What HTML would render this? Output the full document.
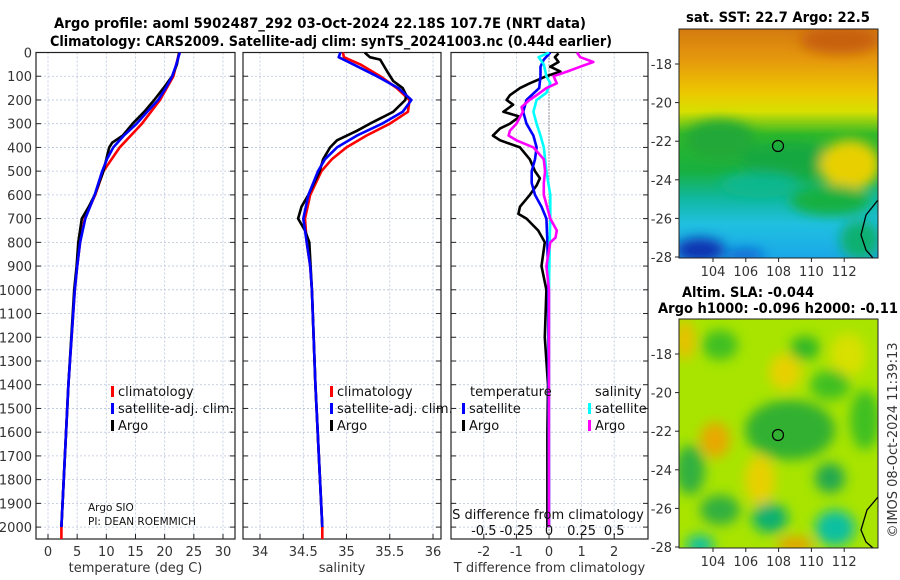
<!DOCTYPE html>
<html><head><meta charset="utf-8">
<style>
html,body{margin:0;padding:0;background:#fff;}
svg{display:block;font-family:"DejaVu Sans","Liberation Sans",sans-serif;}
</style></head>
<body>
<svg id="fig" width="900" height="580" viewBox="0 0 900 580" xmlns="http://www.w3.org/2000/svg">
<defs>
<linearGradient id="sstGrad" x1="0" y1="0" x2="0" y2="1">
<stop offset="0" stop-color="#d47a10"/><stop offset="0.14" stop-color="#e69a0c"/>
<stop offset="0.28" stop-color="#ecc800"/><stop offset="0.36" stop-color="#d8e000"/>
<stop offset="0.46" stop-color="#30b828"/><stop offset="0.62" stop-color="#18b040"/>
<stop offset="0.74" stop-color="#10b8a0"/><stop offset="0.85" stop-color="#20c0e0"/>
<stop offset="1" stop-color="#1aa8e8"/></linearGradient>
<filter id="blur6" x="-30%" y="-30%" width="160%" height="160%"><feGaussianBlur stdDeviation="6"/></filter>
<clipPath id="clipMap1"><rect x="679" y="29" width="199" height="229"/></clipPath>
<clipPath id="clipMap2"><rect x="679" y="319" width="199" height="229"/></clipPath>
<clipPath id="clipP1"><rect x="36" y="52" width="199" height="487"/></clipPath>
<clipPath id="clipP2"><rect x="243" y="52" width="198" height="487"/></clipPath>
<clipPath id="clipP3"><rect x="451" y="52" width="197" height="487"/></clipPath>
</defs>
<g font-weight="bold" font-size="14">
<text x="54" y="28" textLength="532" lengthAdjust="spacingAndGlyphs">Argo profile: aoml 5902487_292 03-Oct-2024 22.18S 107.7E (NRT data)</text>
<text x="50" y="46" textLength="562" lengthAdjust="spacingAndGlyphs">Climatology: CARS2009. Satellite-adj clim: synTS_20241003.nc (0.44d earlier)</text>
</g>
<g id="p1"></g>
<g id="p2"></g>
<g id="p3"></g>

<!-- SST map -->
<g>
<text x="686" y="22" font-size="14" font-weight="bold" textLength="184" lengthAdjust="spacingAndGlyphs">sat. SST: 22.7 Argo: 22.5</text>
<g clip-path="url(#clipMap1)">
<rect x="679" y="29" width="199" height="229" fill="url(#sstGrad)"/>
<g filter="url(#blur6)">
<ellipse cx="840" cy="40" rx="40" ry="14" fill="#c86010"/>
<ellipse cx="720" cy="140" rx="35" ry="20" fill="#20a838"/>
<ellipse cx="790" cy="160" rx="50" ry="18" fill="#18a840"/>
<ellipse cx="850" cy="165" rx="30" ry="25" fill="#e8d000"/>
<ellipse cx="830" cy="200" rx="40" ry="15" fill="#18b040"/>
<ellipse cx="760" cy="185" rx="40" ry="12" fill="#10b890"/>
<ellipse cx="700" cy="250" rx="25" ry="12" fill="#0830b0"/>
<ellipse cx="745" cy="255" rx="20" ry="6" fill="#1060d0"/>
<ellipse cx="860" cy="240" rx="20" ry="20" fill="#10b070"/>
</g>
<path d="M878 200 L866 215 L861 235 L866 250 L873 258" fill="none" stroke="#000" stroke-width="1.3"/>
</g>
<rect x="679" y="29" width="199" height="229" fill="none" stroke="#222" stroke-width="1"/>
<circle cx="778" cy="146" r="5.5" fill="none" stroke="#000" stroke-width="1.2"/>
</g>
<g id="map1axes" font-size="13" fill="#333"></g>

<!-- SLA map -->
<g>
<text x="682" y="297" font-size="14" font-weight="bold" textLength="132" lengthAdjust="spacingAndGlyphs">Altim. SLA: -0.044</text>
<text x="658" y="313" font-size="14" font-weight="bold" textLength="240" lengthAdjust="spacingAndGlyphs">Argo h1000: -0.096 h2000: -0.11</text>
<g clip-path="url(#clipMap2)">
<rect x="679" y="319" width="199" height="229" fill="#a8e400"/>
<g filter="url(#blur6)">
<ellipse cx="720" cy="345" rx="18" ry="15" fill="#40c020"/>
<ellipse cx="805" cy="348" rx="15" ry="12" fill="#30b828"/>
<ellipse cx="685" cy="340" rx="10" ry="20" fill="#e8c000"/>
<ellipse cx="785" cy="372" rx="16" ry="18" fill="#e8d000"/>
<ellipse cx="848" cy="355" rx="18" ry="22" fill="#d8e000"/>
<ellipse cx="830" cy="385" rx="20" ry="15" fill="#40c020"/>
<ellipse cx="790" cy="430" rx="45" ry="30" fill="#30b030"/>
<ellipse cx="715" cy="440" rx="15" ry="18" fill="#e8a800"/>
<ellipse cx="690" cy="470" rx="15" ry="25" fill="#30b040"/>
<ellipse cx="760" cy="480" rx="15" ry="25" fill="#e8d000"/>
<ellipse cx="830" cy="478" rx="15" ry="15" fill="#20a850"/>
<ellipse cx="720" cy="510" rx="20" ry="15" fill="#30b040"/>
<ellipse cx="770" cy="518" rx="18" ry="15" fill="#10b070"/>
<ellipse cx="835" cy="528" rx="20" ry="18" fill="#10c0a0"/>
<ellipse cx="700" cy="545" rx="14" ry="10" fill="#10c0a0"/>
<ellipse cx="795" cy="545" rx="18" ry="8" fill="#e8a000"/>
<ellipse cx="865" cy="420" rx="15" ry="30" fill="#40c020"/>
</g>
<path d="M878 497 L867 510 L861 530 L866 542 L873 548" fill="none" stroke="#000" stroke-width="1.3"/>
</g>
<rect x="679" y="319" width="199" height="229" fill="none" stroke="#222" stroke-width="1"/>
<circle cx="778" cy="435" r="5.5" fill="none" stroke="#000" stroke-width="1.2"/>
</g>
<g id="map2axes" font-size="13" fill="#333"></g>
<text transform="translate(897,440) rotate(-90)" font-size="13" fill="#333" text-anchor="middle">©IMOS 08-Oct-2024 11:39:13</text>

<script>
// ---- data ----
const depthTicks=[0,100,200,300,400,500,600,700,800,900,1000,1100,1200,1300,1400,1500,1600,1700,1800,1900,2000];
const tempTicks=[0,5,10,15,20,25,30];
const salTicks=[34,34.5,35,35.5,36];
const salTickLabels=["34","34.5","35","35.5","36"];
const tdiffTicks=[-2,-1,0,1,2];
const sdiffTicks=[-0.5,-0.25,0,0.25,0.5];
const sdiffTickLabels=["-0.5","-0.25","0","0.25","0.5"];

const tClimDepth=[0,100,200,300,400,500,600,700,800,900,1000,1400,2000,2060];
const tClimVal=[22.5,21.5,19.2,16.1,12.3,9.5,8.1,6.3,5.5,5.0,4.6,3.5,2.3,2.3];
const tSatDepth=[0,50,100,150,200,250,300,350,400,450,500,600,700,800,900,1000,1400,2000];
const tSatVal=[22.6,22.0,21.3,20.2,18.9,17.0,15.2,13.0,11.2,10.1,9.3,8.0,6.4,5.5,5.0,4.6,3.5,2.3];
const tArgoDepth=[0,50,100,150,200,250,300,350,380,400,450,500,600,650,700,800,900,1000,1400,2000];
const tArgoVal=[22.5,22.1,21.3,19.8,18.2,16.5,14.5,12.8,11.0,10.5,10.0,9.5,8.0,7.0,5.8,5.2,4.9,4.5,3.5,2.3];

const sClimDepth=[0,20,50,100,150,200,250,300,350,400,450,500,600,700,800,900,1000,1400,2000,2060];
const sClimVal=[34.96,34.97,35.16,35.39,35.58,35.73,35.71,35.5,35.23,35.0,34.83,34.71,34.58,34.52,34.54,34.58,34.6,34.64,34.72,34.72];
const sSatDepth=[0,20,50,100,150,200,250,300,350,400,450,500,600,700,800,900,1000,1400,2000];
const sSatVal=[34.93,34.91,35.08,35.35,35.6,35.75,35.65,35.41,35.12,34.89,34.75,34.67,34.56,34.5,34.54,34.58,34.6,34.64,34.72];
const sArgoDepth=[0,20,30,80,120,150,180,200,250,300,330,370,400,450,500,600,650,700,750,800,1000,1400,2000];
const sArgoVal=[35.21,35.27,35.39,35.47,35.54,35.65,35.69,35.68,35.54,35.27,35.12,34.89,34.81,34.73,34.69,34.56,34.48,34.44,34.52,34.57,34.6,34.64,34.72];

const dTArgoDepth=[4,20,40,60,80,100,130,150,180,200,220,250,270,300,320,350,370,400,450,500,530,560,600,650,680,700,750,800,900,1000,1200,1400,1600,2000];
const dTArgoVal=[0.29,0.18,0.29,0.04,0.35,-0.08,-0.59,-0.89,-1.2,-1.3,-1.1,-1.4,-0.9,-1.2,-1.5,-1.72,-1.5,-0.89,-0.59,-0.43,-0.28,-0.38,-0.59,-0.89,-0.94,-0.69,-0.33,-0.13,-0.23,-0.08,-0.13,-0.03,-0.05,-0.05];
const dTSatDepth=[0,30,60,100,150,200,250,300,350,400,450,500,550,600,650,700,800,1000,2000];
const dTSatVal=[0.04,-0.16,-0.26,-0.26,-0.3,-0.69,-0.79,-0.69,-0.48,-0.38,-0.43,-0.53,-0.53,-0.43,-0.23,-0.08,-0.05,-0.02,0];
const dSSatDepth=[0,20,50,100,130,170,200,250,300,350,400,500,600,700,800,1000,2000];
const dSSatVal=[0,-0.08,-0.04,-0.02,0.01,-0.02,-0.095,-0.12,-0.095,-0.065,-0.04,-0.02,0.01,0.01,0.005,0,0];
const dSArgoDepth=[0,20,40,60,80,100,130,150,180,200,230,250,300,330,350,370,400,450,500,550,600,700,750,780,800,900,1000,1400,2000];
const dSArgoVal=[0.215,0.24,0.34,0.24,0.14,0.035,0.06,-0.02,-0.095,-0.15,-0.21,-0.2,-0.25,-0.3,-0.31,-0.25,-0.12,-0.04,-0.03,-0.04,-0.04,0.01,0.06,0.05,0.01,-0.02,0,0,0];

const lonTicks=[104,106,108,110,112];
const latTicks=[-18,-20,-22,-24,-26,-28];

// ---- helpers ----
const NS="http://www.w3.org/2000/svg";
function mk(parent,tag,attrs,text){const e=document.createElementNS(NS,tag);for(const k in attrs)e.setAttribute(k,attrs[k]);if(text!==undefined)e.textContent=text;parent.appendChild(e);return e;}
const TOP=52.5,BOT=539,YS=0.2373;
const yD=d=>TOP+d*YS;

function panel(g,x0,x1,xs,xTicks,xLabels,xTitle,clip,showDepth){
  depthTicks.forEach(d=>{const l=mk(g,'line',{x1:x0,x2:x1,y1:yD(d),y2:yD(d),stroke:'#b8c4dc','stroke-width':0.8,'stroke-dasharray':'2,2'});
    
    });
  xTicks.forEach(v=>{const l=mk(g,'line',{x1:xs(v),x2:xs(v),y1:TOP,y2:BOT,stroke:'#b8c4dc','stroke-width':0.8,'stroke-dasharray':'2,2'});
    
    });
  mk(g,'rect',{x:x0,y:TOP,width:x1-x0,height:BOT-TOP,fill:'none',stroke:'#222','stroke-width':1.2});
  depthTicks.forEach(d=>{mk(g,'line',{x1:x0,x2:x0+5,y1:yD(d),y2:yD(d),stroke:'#222'});mk(g,'line',{x1:x1-5,x2:x1,y1:yD(d),y2:yD(d),stroke:'#222'});
    if(showDepth){const t=mk(g,'text',{x:x0-4,y:yD(d)+5,'font-size':13,fill:'#333','text-anchor':'end'},String(d));
      
      }});
  xTicks.forEach((v,i)=>{mk(g,'line',{x1:xs(v),x2:xs(v),y1:BOT-5,y2:BOT,stroke:'#222'});
    const t=mk(g,'text',{x:xs(v),y:556,'font-size':13,fill:'#333','text-anchor':'middle'},xLabels[i]);
    
    });
  const tt=mk(g,'text',{x:(x0+x1)/2,y:572,'font-size':13,fill:'#333','text-anchor':'middle'},xTitle);
  
  
}
function series(g,xs,dep,val,color,name,clip){
  const pts=dep.map((d,i)=>xs(val[i]).toFixed(1)+','+yD(d).toFixed(1)).join(' ');
  const p=mk(g,'polyline',{points:pts,fill:'none',stroke:color,'stroke-width':2.6,'stroke-linejoin':'round','clip-path':clip});
  
  
}
function legend(g,x,y,items){
  items.forEach((it,i)=>{mk(g,'rect',{x:x,y:y+i*17-10,width:3,height:11,fill:it[1]});
    const t=mk(g,'text',{x:x+7,y:y+i*17,'font-size':13,fill:'#111'},it[0]);
    
    });
}

const p1=document.getElementById('p1');
const xT=v=>48+v*5.833;
panel(p1,36,235,xT,tempTicks,tempTicks.map(String),'temperature (deg C)','url(#clipP1)',true);
series(p1,xT,tClimDepth,tClimVal,'#ff0000','temperature-climatology-line','url(#clipP1)');
series(p1,xT,tArgoDepth,tArgoVal,'#000000','temperature-argo-line','url(#clipP1)');
series(p1,xT,tSatDepth,tSatVal,'#0000ff','temperature-satellite-line','url(#clipP1)');
legend(p1,111,396,[['climatology','#ff0000'],['satellite-adj. clim.','#0000ff'],['Argo','#000']]);
const a1=mk(p1,'text',{x:88,y:511,'font-size':10.5,fill:'#111'},'Argo SIO');


const a2=mk(p1,'text',{x:88,y:525,'font-size':10.5,fill:'#111'},'PI: DEAN ROEMMICH');



const p2=document.getElementById('p2');
const xS=v=>260+(v-34)*86.5;
panel(p2,243,441,xS,salTicks,salTickLabels,'salinity','url(#clipP2)',false);
series(p2,xS,sClimDepth,sClimVal,'#ff0000','salinity-climatology-line','url(#clipP2)');
series(p2,xS,sArgoDepth,sArgoVal,'#000000','salinity-argo-line','url(#clipP2)');
series(p2,xS,sSatDepth,sSatVal,'#0000ff','salinity-satellite-line','url(#clipP2)');
legend(p2,330,396,[['climatology','#ff0000'],['satellite-adj. clim.','#0000ff'],['Argo','#000']]);

const p3=document.getElementById('p3');
const xD=v=>549+v*32.6;
const xSD=v=>549+v*130.4;
panel(p3,451,648,xD,tdiffTicks,tdiffTicks.map(String),'T difference from climatology','url(#clipP3)',false);
mk(p3,'line',{x1:549,x2:549,y1:TOP,y2:BOT,stroke:'#444','stroke-width':1,'stroke-dasharray':'1,2'});
series(p3,xD,dTArgoDepth,dTArgoVal,'#000000','tdiff-argo-line','url(#clipP3)');
series(p3,xD,dTSatDepth,dTSatVal,'#0000ff','tdiff-satellite-line','url(#clipP3)');
series(p3,xSD,dSSatDepth,dSSatVal,'#00ffff','sdiff-satellite-line','url(#clipP3)');
series(p3,xSD,dSArgoDepth,dSArgoVal,'#ff00ff','sdiff-argo-line','url(#clipP3)');
const lt=mk(p3,'text',{x:470,y:396,'font-size':13,fill:'#111'},'temperature');


const ls=mk(p3,'text',{x:595,y:396,'font-size':13,fill:'#111'},'salinity');


legend(p3,462,413,[['satellite','#0000ff'],['Argo','#000']]);
legend(p3,588,413,[['satellite','#00ffff'],['Argo','#ff00ff']]);
const sdt=mk(p3,'text',{x:548,y:519,'font-size':13,fill:'#111','text-anchor':'middle'},'S difference from climatology');


sdiffTicks.forEach((v,i)=>{const t=mk(p3,'text',{x:xSD(v),y:535,'font-size':13,fill:'#111','text-anchor':'middle'},sdiffTickLabels[i]);
  
  });

function mapAxes(gid,top,bot,lat0y,lat28y){
  const g=document.getElementById(gid);
  const xL=v=>713+(v-104)*16.4;
  const yL=v=>lat0y+(-18-v)*(lat28y-lat0y)/10;
  lonTicks.forEach(v=>{mk(g,'line',{x1:xL(v),x2:xL(v),y1:bot,y2:bot+4,stroke:'#222'});
    const t=mk(g,'text',{x:xL(v),y:bot+18,'text-anchor':'middle'},String(v));
    
    });
  latTicks.forEach(v=>{mk(g,'line',{x1:675,x2:679,y1:yL(v),y2:yL(v),stroke:'#222'});
    const t=mk(g,'text',{x:672,y:yL(v)+5,'text-anchor':'end'},String(v));
    
    });
}
mapAxes('map1axes',29,258,64,257);
mapAxes('map2axes',319,548,354,547);
</script>
</svg>
</body></html>
